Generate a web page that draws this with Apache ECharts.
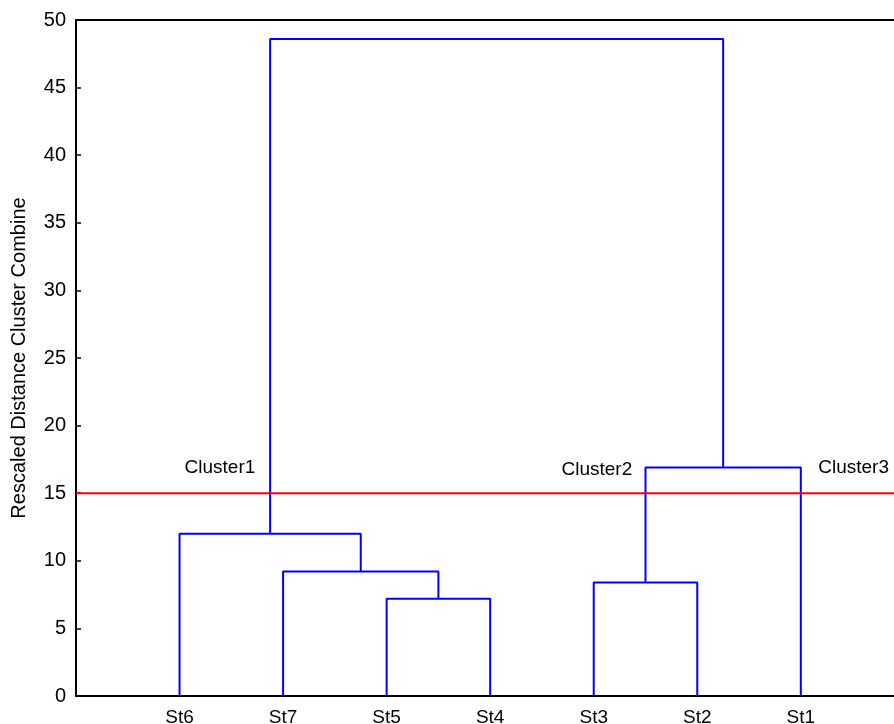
<!DOCTYPE html>
<html>
<head>
<meta charset="utf-8">
<script src="https://cdn.jsdelivr.net/npm/echarts@6/dist/echarts.min.js"></script>
<style>html,body{margin:0;padding:0;background:#fff}#c{width:894px;height:724px}</style>
</head>
<body>
<div id="c"></div>
<script>
// Leaves in display order
const leaves = ['St6', 'St7', 'St5', 'St4', 'St3', 'St2', 'St1'];
// Merges: [left node, right node, height]; leaves are nodes 0..6, merges become 7, 8, ...
const merges = [
  [2, 3, 7.2],
  [1, 7, 9.2],
  [0, 8, 12.0],
  [4, 5, 8.4],
  [10, 6, 16.9],
  [9, 11, 48.6]
];
const cutHeight = 15;
const clusterNames = ['Cluster1', 'Cluster2', 'Cluster3'];
const clusterX = [1.39, 5.03, 7.51];
const clusterY = [16.9, 16.7, 16.85];
const yTicks = [0, 5, 10, 15, 20, 25, 30, 35, 40, 45, 50];

const nodeX = leaves.map((_, i) => i + 1);
const nodeH = leaves.map(() => 0);
const linkSeries = [];
merges.forEach(([a, b, h]) => {
  const xa = nodeX[a], xb = nodeX[b];
  linkSeries.push({
    type: 'line',
    data: [[xa, nodeH[a]], [xa, h], [xb, h], [xb, nodeH[b]]],
    symbol: 'none',
    lineStyle: { color: '#0000ff', width: 2 },
    silent: true,
    z: 3
  });
  nodeX.push((xa + xb) / 2);
  nodeH.push(h);
});

const xMax = 7.9;
const font = 'Liberation Sans, Arial, sans-serif';
const chart = echarts.init(document.getElementById('c'));
chart.setOption({
  animation: false,
  grid: { left: 76, top: 20, right: 0, bottom: 28, outerBoundsMode: 'none', containLabel: false },
  xAxis: [{
    type: 'value', min: 0, max: xMax, interval: 1,
    splitLine: { show: false },
    axisTick: { show: false },
    axisLine: { show: true, onZero: false, lineStyle: { color: '#000', width: 2 } },
    axisLabel: {
      color: '#000', fontSize: 19, fontFamily: font, margin: 12,
      showMaxLabel: false,
      formatter: v => (v >= 1 && v <= leaves.length && Number.isInteger(v)) ? leaves[v - 1] : ''
    }
  }, {
    type: 'value', min: 0, max: xMax, position: 'top',
    splitLine: { show: false }, axisTick: { show: false }, axisLabel: { show: false },
    axisLine: { show: true, onZero: false, lineStyle: { color: '#000', width: 2 } }
  }],
  yAxis: {
    type: 'value', min: yTicks[0], max: yTicks[yTicks.length - 1], interval: 5,
    name: 'Rescaled Distance Cluster Combine',
    nameLocation: 'middle', nameGap: 47,
    nameTextStyle: { color: '#000', fontSize: 20, fontFamily: font },
    splitLine: { show: false },
    axisLine: { show: true, lineStyle: { color: '#000', width: 2 } },
    axisTick: { show: true, inside: true, length: 5, lineStyle: { color: '#000', width: 1.5 } },
    axisLabel: { color: '#000', fontSize: 20, fontFamily: font, margin: 10 }
  },
  series: [
    ...linkSeries,
    {
      type: 'line',
      data: [[0, cutHeight], [xMax, cutHeight]],
      symbol: 'none',
      lineStyle: { color: '#ff0000', width: 2 },
      silent: true,
      z: 4
    },
    {
      type: 'scatter',
      symbolSize: 0,
      itemStyle: { opacity: 1 },
      data: clusterNames.map((n, i) => ({ name: n, value: [clusterX[i], clusterY[i]] })),
      label: {
        show: true, position: 'inside', formatter: p => p.name,
        color: '#000', fontSize: 19, fontFamily: font
      },
      silent: true,
      z: 5
    }
  ]
});
</script>
</body>
</html>
